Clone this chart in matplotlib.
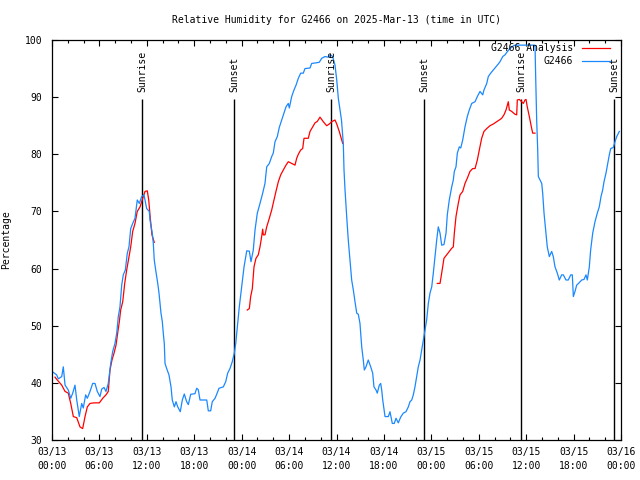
import matplotlib
matplotlib.use("Agg")
import matplotlib.pyplot as plt
import numpy as np

plt.rcParams['font.family'] = ['DejaVu Sans Mono']
FS = 7

title = "Relative Humidity for G2466 on 2025-Mar-13 (time in UTC)"
ylabel = "Percentage"
series_names = ["G2466 Analysis", "G2466"]

# time in hours since 2025-03-13 00:00 UTC
blue_t = [0.00, 0.59, 0.80, 1.23, 1.43, 1.65, 2.06, 2.37, 2.62, 2.91, 3.13, 3.45, 3.76, 3.96,
          4.26, 4.47, 4.81, 5.15, 5.44, 5.73, 6.07, 6.29, 6.58, 6.83, 7.12, 7.43, 7.68, 7.97,
          8.19, 8.39, 8.60, 8.82, 9.02, 9.28, 9.53, 9.74, 9.96, 10.21, 10.50, 10.79, 11.05,
          11.35, 11.64, 11.98, 12.31, 12.40, 12.69, 12.82, 12.94, 13.12, 13.38, 13.54, 13.67,
          13.79, 13.96, 14.08, 14.21, 14.30, 14.51, 14.80, 15.06, 15.22, 15.48, 15.69, 15.91,
          16.23, 16.49, 16.74, 17.04, 17.25, 17.55, 18.09, 18.31, 18.51, 18.73, 19.58, 19.78,
          20.08, 20.28, 20.63, 20.84, 21.13, 21.68, 21.98, 22.23, 22.52, 22.81, 23.07, 23.25,
          23.45, 23.70, 24.00, 24.30, 24.64, 24.97, 25.18, 25.47, 25.69, 25.98, 26.32, 26.66,
          26.95, 27.17, 27.50, 27.80, 28.00, 28.22, 28.51, 28.76, 29.07, 29.36, 29.61, 29.90,
          30.03, 30.33, 30.62, 30.88, 31.17, 31.47, 31.80, 32.01, 32.65, 32.86, 33.41, 33.82,
          34.13, 34.54, 34.96, 35.27, 35.52, 35.81, 36.03, 36.23, 36.63, 36.86, 36.95, 37.08,
          37.29, 37.49, 37.71, 37.92, 38.13, 38.34, 38.56, 38.76, 38.97, 39.19, 39.39, 39.52,
          39.73, 40.02, 40.33, 40.58, 40.74, 41.00, 41.16, 41.42, 41.59, 41.72, 41.85, 42.14,
          42.56, 42.77, 43.06, 43.31, 43.53, 43.82, 44.12, 44.45, 44.79, 45.09, 45.30, 45.52,
          45.72, 45.93, 46.15, 46.35, 46.57, 46.78, 46.98, 47.20, 47.41, 47.62, 47.83, 48.05,
          48.25, 48.46, 48.68, 48.88, 49.10, 49.31, 49.60, 49.86, 50.02, 50.27, 50.58, 50.78,
          50.91, 51.12, 51.29, 51.54, 51.72, 51.97, 52.26, 52.55, 52.80, 53.11, 53.53, 53.82,
          54.16, 54.50, 54.66, 55.01, 55.21, 55.51, 55.84, 56.18, 56.47, 56.69, 57.03, 57.32,
          57.61, 57.95, 58.37, 58.59, 61.12, 61.18, 61.33, 61.46, 61.54, 61.97, 62.09, 62.26,
          62.47, 62.67, 62.93, 63.23, 63.43, 63.65, 63.94, 64.19, 64.50, 64.70, 65.04, 65.33,
          65.64, 65.84, 65.97, 66.18, 66.39, 66.69, 67.03, 67.32, 67.57, 67.74, 67.99, 68.16,
          68.42, 68.71, 69.00, 69.25, 69.47, 69.68, 69.85, 70.10, 70.32, 70.52, 70.70, 71.03,
          71.24, 71.46, 71.79]
blue_v = [42.0, 41.4, 40.7, 41.1, 42.8, 39.6, 38.75, 37.3, 38.2, 39.6, 37.0, 34.1, 36.4, 35.6,
          37.9, 37.3, 38.5, 39.9, 39.9, 38.5, 37.6, 38.9, 39.2, 38.5, 39.9, 43.4, 45.5, 46.9,
          48.7, 51.6, 53.3, 57.1, 58.9, 59.75, 62.7, 63.8, 67.0, 67.9, 68.8, 72.0, 71.4,
          72.6, 72.9, 70.5, 70.0, 68.5, 66.2, 64.4, 61.5, 59.75, 57.4, 55.7, 53.9,
          52.2, 50.7, 48.7, 46.9, 43.4, 42.5, 41.4, 39.3, 37.0, 35.8, 36.7, 35.8,
          34.95, 37.0, 38.05, 36.7, 36.2, 38.0, 38.1, 39.05, 38.8, 37.0, 37.0, 35.1,
          35.1, 36.7, 37.3, 38.0, 39.05, 39.3, 40.2, 41.7, 42.5, 43.7, 45.2, 46.9,
          49.8, 53.3, 56.8, 60.3, 63.1, 63.05, 61.2, 63.25, 66.75, 69.7, 71.4, 73.2,
          74.9, 77.8, 78.4, 79.6, 80.2, 82.2, 83.1, 84.7, 86.0, 87.2, 88.3, 88.9,
          88.1, 90.1, 91.25, 92.1, 93.3, 94.2, 94.2, 95.0, 95.1, 95.9, 96.0, 96.1,
          96.8, 97.1, 97.0, 97.4, 97.1, 95.6, 93.0, 89.8, 86.0, 81.9, 77.25, 73.75,
          69.1, 65.0, 61.5, 58.0, 56.25, 54.2, 52.2, 52.0, 50.4, 46.3, 44.0, 42.25,
          42.8, 44.0, 42.8, 41.7, 39.3, 38.75, 38.2, 39.6, 39.9, 38.75, 37.0, 34.1,
          34.1, 34.95, 32.9, 32.9, 33.8, 33.0, 34.0, 34.7, 34.95, 35.8, 36.7, 37.0,
          37.9, 39.3, 41.1, 42.8, 44.0, 45.75, 47.5, 49.25, 51.0, 53.9, 55.7, 56.8,
          59.2, 62.1, 65.0, 67.3, 66.2, 64.1, 64.2, 66.2, 69.4, 72.0, 74.3, 75.5,
          77.0, 77.8, 80.2, 81.3, 81.1, 82.5, 84.8, 86.6, 87.75, 88.9, 89.2, 90.1,
          91.0, 90.4, 91.25, 92.4, 93.6, 94.2, 94.75, 95.3, 95.8, 96.2, 97.1, 97.4,
          97.95, 98.5, 98.95, 99.1, 99.1, 95.0, 86.0, 80.75, 76.1, 74.9, 73.2, 69.7,
          66.75, 63.8, 62.1, 63.0, 62.1, 60.3, 59.2, 58.0, 58.9, 58.9, 58.0, 58.0,
          58.9, 58.9, 55.1, 56.0, 57.1, 57.5, 58.0, 58.1, 58.9, 58.0, 60.3, 63.25,
          66.2, 68.2, 69.7, 70.8, 72.6, 73.75, 75.2, 76.7, 78.4, 79.9, 81.0, 81.2,
          82.2, 83.1, 84.0]

# analysis series: three separate daytime segments
red1_t = [0.38, 0.67, 1.23, 1.65, 2.06, 2.37, 2.70, 3.13, 3.54, 3.88, 4.18, 4.47, 4.81, 5.31,
          5.99, 6.42, 6.83, 7.12, 7.34, 7.59, 7.85, 8.10, 8.31, 8.52, 8.69, 8.95, 9.20, 9.45,
          9.71, 9.96, 10.21, 10.50, 10.79, 11.14, 11.48, 11.77, 12.06, 12.24, 12.40, 12.53,
          12.65, 12.94]
red1_v = [41.0, 40.5, 39.6, 38.5, 38.2, 36.4, 34.1, 33.9, 32.3, 32.0, 34.1, 35.8, 36.4, 36.5,
          36.5, 37.3, 37.9, 38.5, 42.25, 44.0, 45.2, 46.6, 48.7, 50.7, 52.75, 54.2, 57.4, 59.75,
          61.8, 63.8, 66.5, 67.9, 70.0, 70.8, 72.3, 73.5, 73.6, 72.0, 69.4, 67.5,
          65.9, 64.6]
red2_t = [24.71, 24.97, 25.14, 25.35, 25.56, 25.81, 26.10, 26.32, 26.53, 26.66, 26.74, 26.95,
          27.17, 27.50, 27.80, 28.09, 28.34, 28.64, 28.94, 29.27, 29.61, 29.90, 30.33, 30.75,
          30.96, 31.17, 31.47, 31.72, 31.89, 32.43, 32.65, 32.99, 33.28, 33.57, 33.91, 34.33,
          34.76, 35.09, 35.39, 35.81, 36.03, 36.35, 36.66, 36.79]
red2_v = [52.75, 53.0, 55.1, 56.5, 60.3, 61.8, 62.4, 63.8, 65.6, 66.9, 65.9, 65.9,
          67.3, 68.8, 70.25, 72.0, 73.5, 75.2, 76.4, 77.25, 78.1, 78.7, 78.4, 78.1,
          79.3, 80.0, 80.75, 81.0, 82.8, 82.8, 84.0, 84.8, 85.5, 85.75, 86.5, 85.7,
          85.0, 85.3, 85.7, 86.0, 85.3, 84.0, 82.5, 81.9]
red3_t = [48.76, 49.10, 49.31, 49.60, 49.94, 50.27, 50.58, 50.78, 50.91, 51.12, 51.41, 51.63,
          51.97, 52.26, 52.55, 52.89, 53.23, 53.53, 53.82, 54.07, 54.37, 54.66, 55.01, 55.42,
          55.84, 56.27, 56.60, 56.90, 57.19, 57.45, 57.74, 57.87, 58.17, 58.59, 58.80, 58.88,
          59.13, 59.43, 59.64, 59.85, 59.98, 60.14, 60.40, 60.70, 60.83, 61.12]
red3_v = [57.4, 57.4, 59.2, 61.8, 62.4, 63.0, 63.55, 63.8, 66.2, 69.1, 71.4, 72.9,
          73.5, 74.9, 75.8, 77.0, 77.5, 77.5, 79.0, 80.75, 82.8, 84.0, 84.5, 85.0,
          85.3, 85.7, 86.0, 86.3, 86.9, 87.75, 89.2, 87.75, 87.5, 87.0, 86.9, 89.5,
          89.6, 89.2, 88.9, 89.5, 89.6, 88.3, 86.6, 84.5, 83.7, 83.7]

sunrise_t = [11.42, 35.35, 59.35]
sunset_t = [23.07, 47.11, 71.15]
sun_line_top = 89.6

xtick_pos = [0, 6, 12, 18, 24, 30, 36, 42, 48, 54, 60, 66, 72]
xtick_labels = ["03/13\n00:00", "03/13\n06:00", "03/13\n12:00", "03/13\n18:00",
                "03/14\n00:00", "03/14\n06:00", "03/14\n12:00", "03/14\n18:00",
                "03/15\n00:00", "03/15\n06:00", "03/15\n12:00", "03/15\n18:00",
                "03/16\n00:00"]
ytick_pos = [30, 40, 50, 60, 70, 80, 90, 100]

RED = "#ff0000"
BLUE = "#1a88ff"

fig = plt.figure(figsize=(6.4, 4.8), dpi=100)
ax = fig.add_axes([52/640, 1 - 440/480, (621-52)/640, 400/480])

# sunrise / sunset markers
for t in sunrise_t:
    ax.vlines(t, 30, sun_line_top, color="black", lw=1.0)
    ax.text(t, 90.9, "Sunrise", rotation=90, ha="center", va="bottom", fontsize=FS)
for t in sunset_t:
    ax.vlines(t, 30, sun_line_top, color="black", lw=1.0)
    ax.text(t, 90.9, "Sunset", rotation=90, ha="center", va="bottom", fontsize=FS)

ax.plot(red1_t, red1_v, color=RED, lw=0.9, label=series_names[0])
ax.plot(red2_t, red2_v, color=RED, lw=0.9)
ax.plot(red3_t, red3_v, color=RED, lw=0.9)
ax.plot(blue_t, blue_v, color=BLUE, lw=0.9, label=series_names[1])

ax.set_xlim(0, 72)
ax.set_ylim(30, 100)
ax.set_xticks(xtick_pos)
ax.set_xticklabels(xtick_labels, fontsize=FS, linespacing=1.45)
ax.set_xticks(np.arange(0, 73, 2), minor=True)
ax.set_yticks(ytick_pos)
ax.set_yticklabels([str(v) for v in ytick_pos], fontsize=FS)
ax.tick_params(axis="both", which="both", direction="in", top=True, right=True,
               width=0.8, color="black")
ax.tick_params(axis="both", which="major", length=4.5)
ax.tick_params(axis="both", which="minor", length=2.5)
ax.tick_params(axis="x", which="major", pad=5)
ax.tick_params(axis="y", which="major", pad=7)
for s in ax.spines.values():
    s.set_linewidth(0.9)

ax.set_title(title, fontsize=FS, pad=12)
ax.set_ylabel(ylabel, fontsize=FS)
ax.yaxis.set_label_coords(-41/569, 0.5)

leg = ax.legend(loc="upper right", bbox_to_anchor=(0.981, 0.992), frameon=False,
                markerfirst=False, fontsize=FS, handlelength=2.9, handletextpad=0.9,
                labelspacing=0.3, borderpad=0, borderaxespad=0)

fig.savefig("out.png", dpi=100)
